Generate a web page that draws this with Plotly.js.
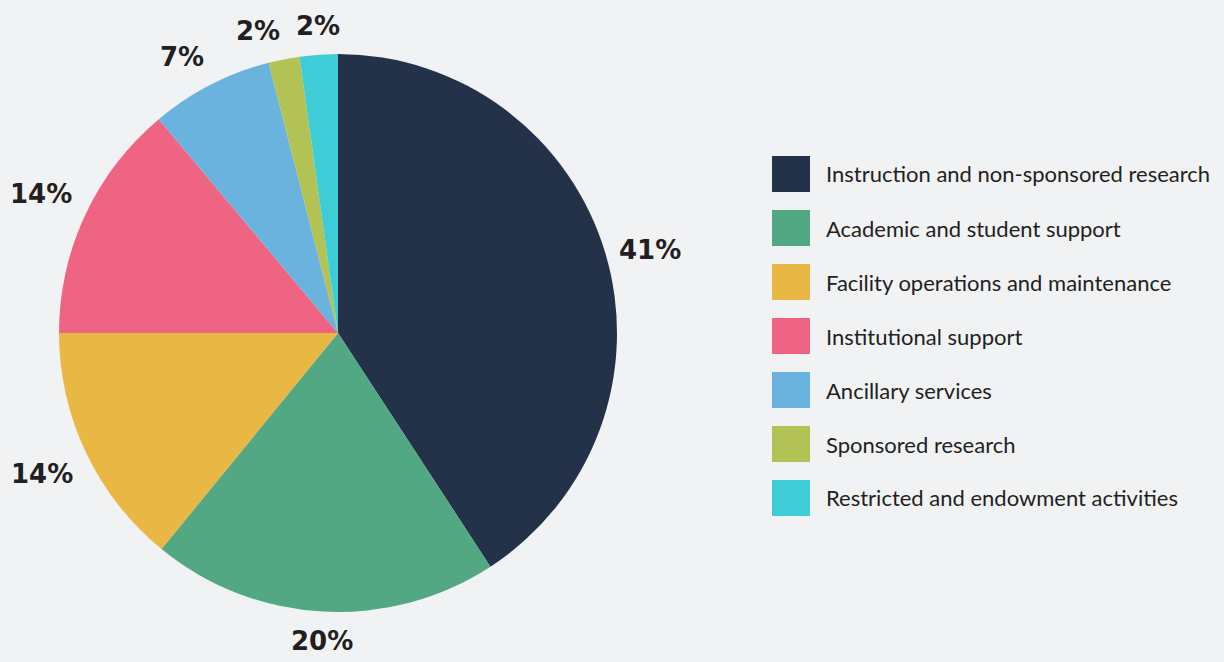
<!DOCTYPE html>
<html>
<head>
<meta charset="utf-8">
<script src="https://cdn.plot.ly/plotly-3.0.1.min.js"></script>
<style>
  html, body { margin: 0; padding: 0; background: #f1f2f4; }
  #chart { width: 1224px; height: 662px; }
</style>
</head>
<body>
<div id="chart"></div>
<script>
const categories = [
  "Instruction and non-sponsored research",
  "Academic and student support",
  "Facility operations and maintenance",
  "Institutional support",
  "Ancillary services",
  "Sponsored research",
  "Restricted and endowment activities"
];
const shares = [40.8, 20.1, 14.1, 13.9, 7.1, 1.8, 2.2];
const colors = ["#243249", "#52a883", "#e8b744", "#f06483", "#6ab3de", "#b2c255", "#3ecdd6"];

const W = 1224, H = 662;
const LEG_FONT = "Lato, 'Open Sans', sans-serif";
const PCT_FONT = "'DejaVu Sans', Lato, sans-serif";

// pie geometry (pixels)
const cx = 338, cy = 333, R = 279;

const pie = {
  type: "pie",
  labels: categories,
  values: shares,
  sort: false,
  direction: "clockwise",
  rotation: 0,
  marker: { colors: colors, line: { width: 0 } },
  textinfo: "none",
  hoverinfo: "label+percent",
  showlegend: false,
  automargin: false,
  domain: { x: [(cx - R) / W, (cx + R) / W], y: [(H - cy - R) / H, (H - cy + R) / H] }
};

const shapes = [];
const annotations = [];

// percent labels outside each slice, anchored at the slice's mid-angle
const total = shares.reduce((a, b) => a + b, 0);
let cum = 0;
shares.forEach((v, i) => {
  const mid = (cum + v / 2) / total * 2 * Math.PI;
  cum += v;
  const s = Math.sin(mid), c = Math.cos(mid);
  const dist = R + 13;
  const px = cx + dist * s, py = cy - dist * c;
  annotations.push({
    xref: "paper", yref: "paper",
    x: px / W, y: 1 - py / H,
    xanchor: s > 0.15 ? "left" : (s < -0.15 ? "right" : "center"),
    yanchor: c > 0.35 ? "bottom" : (c < -0.35 ? "top" : "middle"),
    text: Math.round(v / total * 100) + "%",
    showarrow: false, borderpad: 0,
    font: { family: PCT_FONT, size: 26, color: "#231f20", weight: 700 }
  });
});

// legend drawn as layout shapes + annotations, built from the category/color arrays
const legLeft = 772, legTop = 156, sw = 38, sh = 36, gap = 54, textX = 825;
categories.forEach((cat, i) => {
  const top = legTop + i * gap;
  shapes.push({
    type: "rect", xref: "paper", yref: "paper",
    x0: legLeft / W, x1: (legLeft + sw) / W,
    y0: 1 - (top + sh) / H, y1: 1 - top / H,
    fillcolor: colors[i], line: { width: 0 }
  });
  annotations.push({
    xref: "paper", yref: "paper",
    x: textX / W, y: 1 - (top + sh / 2) / H,
    xanchor: "left", yanchor: "middle",
    text: cat, showarrow: false, borderpad: 0,
    font: { family: LEG_FONT, size: 22, color: "#231f20" }
  });
});

const layout = {
  width: W, height: H,
  margin: { l: 0, r: 0, t: 0, b: 0 },
  paper_bgcolor: "#f1f2f4",
  plot_bgcolor: "#f1f2f4",
  shapes: shapes,
  annotations: annotations,
  showlegend: false
};

Plotly.newPlot("chart", [pie], layout, { displayModeBar: false, staticPlot: true });
</script>
</body>
</html>
